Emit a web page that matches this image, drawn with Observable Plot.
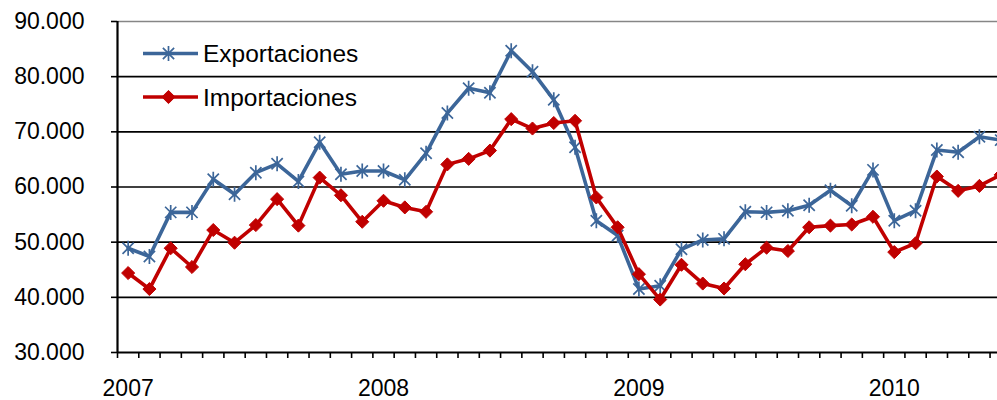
<!DOCTYPE html>
<html>
<head>
<meta charset="utf-8">
<script src="https://cdn.jsdelivr.net/npm/d3@7"></script>
<script src="https://cdn.jsdelivr.net/npm/@observablehq/plot@0.6"></script>
<style>
  html, body { margin: 0; padding: 0; background: #fff; overflow: hidden; }
  #wrap { position: relative; width: 997px; height: 400px; overflow: hidden; }
  #wrap svg.plot { overflow: hidden; }
  #legend { position: absolute; left: 0; top: 0; pointer-events: none; }
</style>
</head>
<body>
<div id="wrap"></div>
<script>
// ---- data ----
const months = [
  "2007-01","2007-02","2007-03","2007-04","2007-05","2007-06","2007-07","2007-08","2007-09","2007-10","2007-11","2007-12",
  "2008-01","2008-02","2008-03","2008-04","2008-05","2008-06","2008-07","2008-08","2008-09","2008-10","2008-11","2008-12",
  "2009-01","2009-02","2009-03","2009-04","2009-05","2009-06","2009-07","2009-08","2009-09","2009-10","2009-11","2009-12",
  "2010-01","2010-02","2010-03","2010-04","2010-05","2010-06"
];
const exportaciones = [
  48900, 47400, 55400, 55400, 61400, 58700, 62600, 64200, 61000, 68100, 62300, 62900,
  62900, 61300, 66100, 73400, 77900, 77100, 84700, 80900, 75800, 67200, 53900, 51200,
  41500, 42100, 48700, 50400, 50600, 55500, 55400, 55700, 56700, 59400, 56600, 63100,
  53900, 55700, 66700, 66300, 69100, 68500
];
const importaciones = [
  44400, 41500, 48900, 45500, 52200, 49900, 53100, 57800, 53000, 61700, 58500, 53700,
  57500, 56300, 55500, 64100, 65100, 66600, 72300, 70600, 71600, 72000, 58100, 52700,
  44200, 39600, 45900, 42500, 41600, 46000, 49000, 48400, 52700, 53000, 53200, 54600,
  48200, 49800, 61900, 59300, 60200, 62200
];
const seriesNames = ["Exportaciones", "Importaciones"];
const yearLabels = ["2007", "2008", "2009", "2010"];
const yTicks = [30000, 40000, 50000, 60000, 70000, 80000, 90000];

// ---- styles ----
const BLUE = "#3c6699";
const RED = "#c00000";
const FONT = "'Liberation Sans', Arial, sans-serif";

const fmt = d3.formatLocale({decimal: ",", thousands: ".", grouping: [3], currency: ["", ""]}).format(",.0f");

const rows = months.map((m, i) => ({i, m, exp: exportaciones[i], imp: importaciones[i]}));
const boundaries = months.map((m, i) => i - 0.5);
const yearIdx = yearLabels.map(y => months.indexOf(y + "-01"));
const xDomain = [-0.5, 40.85];

const asterisk = {
  draw(ctx, size) {
    const r = Math.sqrt(size / Math.PI);
    const d = r * 0.75;
    ctx.moveTo(-d, -d); ctx.lineTo(d, d);
    ctx.moveTo(d, -d); ctx.lineTo(-d, d);
    ctx.moveTo(0, -r); ctx.lineTo(0, r);
  }
};

const chart = Plot.plot({
  width: 997,
  height: 400,
  marginLeft: 117,
  marginRight: 0,
  marginTop: 21,
  marginBottom: 48,
  style: {fontFamily: FONT, fontSize: "23px", color: "#000", background: "#fff"},
  x: {type: "linear", domain: xDomain, axis: null},
  y: {domain: [30000, 90000], axis: null},
  marks: [
    Plot.ruleY(yTicks.slice(1, -1), {stroke: "#000", strokeWidth: 1.6}),
    Plot.ruleY([yTicks[yTicks.length - 1]], {stroke: "#868686", strokeWidth: 1.6}),
    Plot.axisY({ticks: yTicks, tickFormat: fmt, tickSize: 6, tickPadding: 27, stroke: "#000", strokeWidth: 1.6, fill: "#000", fontSize: 23, label: null}),
    Plot.axisX({ticks: boundaries, tickSize: 6, tickFormat: () => "", stroke: "#000", strokeWidth: 1.6, label: null}),
    Plot.axisX({ticks: yearIdx, tickSize: 0, tickPadding: 27, tickFormat: i => months[i].slice(0, 4), fill: "#000", fontSize: 23, label: null}),
    Plot.ruleY([yTicks[0]], {stroke: "#000", strokeWidth: 2.2}),
    Plot.ruleX([xDomain[0]], {stroke: "#000", strokeWidth: 2.2}),
    Plot.line(rows, {x: "i", y: "exp", stroke: BLUE, strokeWidth: 3.6, clip: true}),
    Plot.dot(rows, {x: "i", y: "exp", r: 7.5, symbol: asterisk, stroke: BLUE, strokeWidth: 1.7, fill: "none", clip: true}),
    Plot.line(rows, {x: "i", y: "imp", stroke: RED, strokeWidth: 3.6, clip: true}),
    Plot.dot(rows, {x: "i", y: "imp", r: 5.9, symbol: "diamond2", fill: RED, stroke: RED, strokeWidth: 1, clip: true})
  ]
});

const wrap = document.getElementById("wrap");
wrap.appendChild(chart);

// ---- legend (inside the plot area, top-left) ----
const leg = d3.select(wrap).append("svg")
  .attr("id", "legend")
  .attr("width", 400).attr("height", 130);
const items = [
  {name: seriesNames[0], color: BLUE, kind: "asterisk", y: 53.5},
  {name: seriesNames[1], color: RED, kind: "diamond", y: 97}
];
items.forEach(it => {
  const g = leg.append("g");
  g.append("line").attr("x1", 143).attr("x2", 198).attr("y1", it.y).attr("y2", it.y)
    .attr("stroke", it.color).attr("stroke-width", 3.6);
  if (it.kind === "asterisk") {
    const r = 7.5, d = r * 0.75;
    g.append("path")
      .attr("d", `M${-d},${-d}L${d},${d}M${d},${-d}L${-d},${d}M0,${-r}L0,${r}`)
      .attr("transform", `translate(168.5,${it.y})`)
      .attr("stroke", it.color).attr("stroke-width", 1.7).attr("fill", "none");
  } else {
    const s = 6.6;
    g.append("path")
      .attr("d", `M0,${-s}L${s},0L0,${s}L${-s},0Z`)
      .attr("transform", `translate(168.5,${it.y})`)
      .attr("fill", it.color).attr("stroke", it.color);
  }
  g.append("text").attr("x", 203).attr("y", it.y).attr("dy", "0.36em")
    .attr("font-family", FONT).attr("font-size", 24.5).attr("fill", "#000")
    .text(it.name);
});
</script>
</body>
</html>
